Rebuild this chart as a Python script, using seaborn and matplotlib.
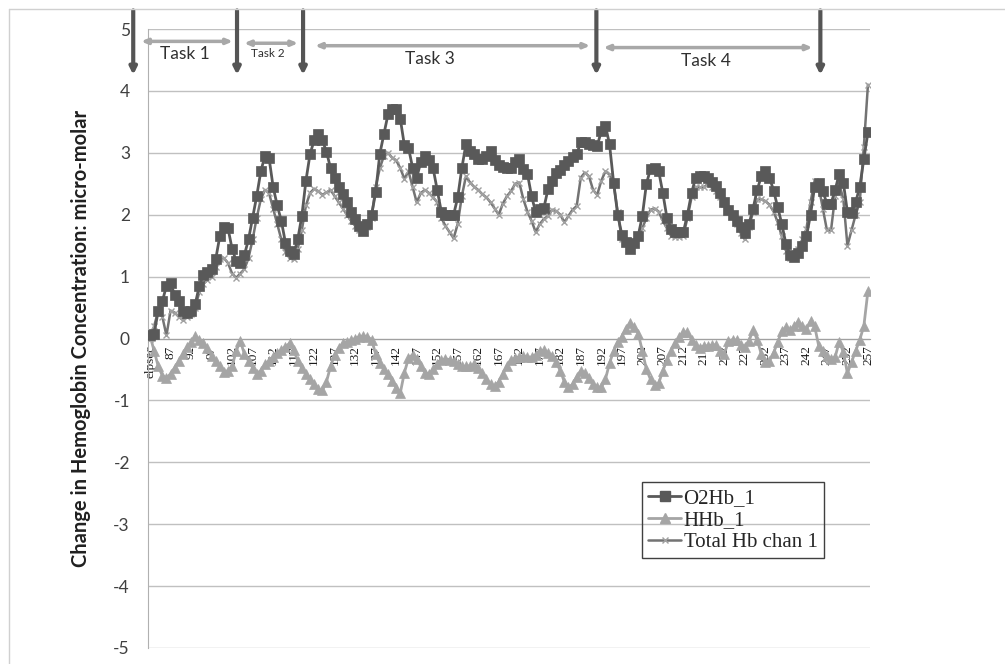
import matplotlib
matplotlib.use("Agg")
import matplotlib.pyplot as plt
from matplotlib.lines import Line2D
import seaborn as sns
import pandas as pd

# category labels: first column is "elpsec", then seconds 83..257
seconds = ["elpsec"] + [str(s) for s in range(83, 258)]

o2hb = [
    0.05, 0.08, 0.45, 0.6, 0.85, 0.9, 0.7, 0.6, 0.45, 0.42,
    0.45, 0.55, 0.85, 1.03, 1.07, 1.12, 1.28, 1.65, 1.8, 1.78,
    1.45, 1.25, 1.22, 1.35, 1.6, 1.95, 2.3, 2.7, 2.95, 2.92,
    2.45, 2.15, 1.9, 1.55, 1.42, 1.36, 1.6, 1.98, 2.55, 2.98,
    3.2, 3.3, 3.2, 3.02, 2.75, 2.6, 2.45, 2.33, 2.2, 2.05,
    1.93, 1.82, 1.74, 1.85, 2.0, 2.36, 2.98, 3.3, 3.62, 3.7,
    3.71, 3.55, 3.12, 3.08, 2.76, 2.6, 2.85, 2.95, 2.88, 2.75,
    2.4, 2.05, 2.0, 2.0, 2.0, 2.28, 2.75, 3.14, 3.03, 2.98,
    2.9, 2.9, 2.95, 3.03, 2.88, 2.8, 2.77, 2.76, 2.76, 2.85,
    2.9, 2.74, 2.66, 2.3, 2.04, 2.09, 2.11, 2.41, 2.55, 2.67,
    2.73, 2.8, 2.87, 2.93, 2.98, 3.17, 3.17, 3.14, 3.12, 3.11,
    3.35, 3.44, 3.14, 2.52, 2.0, 1.68, 1.56, 1.44, 1.55, 1.66,
    1.98, 2.5, 2.74, 2.76, 2.7, 2.35, 1.95, 1.77, 1.72, 1.72,
    1.72, 2.0, 2.35, 2.6, 2.63, 2.63, 2.6, 2.53, 2.47, 2.35,
    2.2, 2.08, 2.0, 1.9, 1.8, 1.7, 1.85, 2.1, 2.4, 2.62,
    2.71, 2.6, 2.39, 2.12, 1.85, 1.53, 1.35, 1.32, 1.38, 1.5,
    1.65, 2.0, 2.45, 2.52, 2.38, 2.18, 2.18, 2.4, 2.66, 2.52,
    2.04, 2.03, 2.2, 2.45, 2.9, 3.33,
]

hhb = [
    0.04, -0.2, -0.45, -0.6, -0.64, -0.57, -0.47, -0.37, -0.25, -0.14,
    -0.06, 0.04, -0.02, -0.08, -0.16, -0.28, -0.36, -0.44, -0.54, -0.52,
    -0.45, -0.2, -0.04, -0.25, -0.36, -0.47, -0.57, -0.52, -0.42, -0.36,
    -0.3, -0.24, -0.18, -0.13, -0.08, -0.18, -0.36, -0.48, -0.57, -0.65,
    -0.73, -0.82, -0.84, -0.7, -0.45, -0.26, -0.15, -0.08, -0.05, -0.03,
    0.0, 0.03, 0.04, 0.03, -0.02, -0.25, -0.4, -0.5, -0.58, -0.68,
    -0.8, -0.88, -0.55, -0.32, -0.26, -0.33, -0.45, -0.55, -0.58, -0.5,
    -0.42, -0.35, -0.33, -0.34, -0.37, -0.41, -0.45, -0.45, -0.44, -0.42,
    -0.48, -0.56, -0.66, -0.74, -0.77, -0.7, -0.58, -0.44, -0.34, -0.32,
    -0.3, -0.29, -0.3, -0.3, -0.26, -0.2, -0.19, -0.24, -0.28, -0.38,
    -0.52, -0.7, -0.79, -0.74, -0.62, -0.52, -0.55, -0.64, -0.74, -0.78,
    -0.79, -0.66, -0.4, -0.2, -0.06, 0.03, 0.16, 0.25, 0.19, 0.08,
    -0.2, -0.5, -0.66, -0.75, -0.72, -0.52, -0.35, -0.2, -0.07, 0.02,
    0.11, 0.1, -0.02, -0.1, -0.15, -0.12, -0.12, -0.11, -0.1, -0.2,
    -0.25, -0.04, -0.02, -0.03, -0.1, -0.13, -0.04, 0.14, -0.02, -0.25,
    -0.38, -0.36, -0.23, -0.06, 0.12, 0.18, 0.13, 0.2, 0.27, 0.2,
    0.15, 0.28, 0.2, -0.12, -0.2, -0.28, -0.33, -0.3, -0.05, -0.22,
    -0.56, -0.38, -0.2, -0.02, 0.2, 0.77,
]

total_hb = [
    0.0, 0.2, 0.45, 0.35, 0.05, 0.45, 0.42, 0.35, 0.3, 0.35,
    0.4, 0.5, 0.75, 0.88, 0.95, 1.0, 1.15, 1.28, 1.3, 1.22,
    1.05, 0.98, 1.05, 1.12, 1.3, 1.6, 1.95, 2.25, 2.4, 2.35,
    2.1, 1.85, 1.6, 1.4, 1.3, 1.28, 1.45, 1.75, 2.15, 2.35,
    2.42, 2.38, 2.32, 2.36, 2.4, 2.3, 2.2, 2.1, 2.0, 1.9,
    1.82, 1.76, 1.72, 1.8, 1.95, 2.45, 2.75, 2.95, 3.0, 2.92,
    2.88, 2.75, 2.58, 2.7, 2.45, 2.2, 2.35, 2.4, 2.35, 2.28,
    2.2, 1.95, 1.82, 1.72, 1.62, 1.85, 2.3, 2.62, 2.52, 2.45,
    2.4, 2.33, 2.28, 2.2, 2.1, 2.0, 2.18, 2.3, 2.38, 2.5,
    2.52, 2.25, 2.05, 1.9, 1.72, 1.85, 1.93, 1.98, 2.08, 2.06,
    2.0, 1.88, 1.98, 2.08, 2.14, 2.6, 2.68, 2.62, 2.4, 2.32,
    2.55, 2.7, 2.65, 2.5, 2.04, 1.6, 1.55, 1.5, 1.55, 1.65,
    1.78, 1.95, 2.08, 2.1, 2.05, 1.9, 1.78, 1.66, 1.64, 1.64,
    1.66, 1.95, 2.28, 2.45, 2.44, 2.44, 2.5, 2.45, 2.38, 2.28,
    2.18, 2.08, 1.98, 1.85, 1.7, 1.6, 1.8, 2.05, 2.25, 2.25,
    2.22, 2.16, 2.05, 1.88, 1.65, 1.42, 1.3, 1.3, 1.45, 1.6,
    1.77, 2.2, 2.55, 2.45, 2.1, 1.75, 1.75, 2.3, 2.5, 2.25,
    1.5, 1.75, 2.0, 2.2, 3.1, 4.1,
]

# task boundaries (category position) and task spans
boundaries = [-4.1, 21.2, 37.3, 108.8, 163.4]
tasks = ["Task 1", "Task 2", "Task 3", "Task 4"]
task_spans = [(-2.2, 20.2), (22.9, 36.1), (40.2, 107.3), (110.5, 161.5)]
task_label_x = [8.5, 28.8, 68.3, 135.4]

df = pd.DataFrame({
    "pos": range(len(seconds)),
    "second": seconds,
    "O2Hb_1": o2hb,
    "HHb_1": hhb,
    "Total Hb chan 1": total_hb,
})

sns.set_style("white")
plt.rcParams["axes.unicode_minus"] = False
plt.rcParams["font.family"] = ["Lato", "DejaVu Sans"]

c_o2 = "#595959"
c_hhb = "#a5a5a5"
c_tot = "#737373"

fig = plt.figure(figsize=(10.05, 6.64), dpi=100)
ax = fig.add_axes([148 / 1005, 16 / 664, 722 / 1005, 619 / 664])

sns.lineplot(data=df, x="pos", y="HHb_1", ax=ax, color=c_hhb, linewidth=2,
             marker="^", markersize=6.5, markeredgecolor=c_hhb, markerfacecolor=c_hhb,
             markeredgewidth=0.5, label="HHb_1", legend=False, zorder=3)
sns.lineplot(data=df, x="pos", y="Total Hb chan 1", ax=ax, color=c_tot, linewidth=1.8,
             marker="x", markersize=5, markeredgecolor="#a0a0a0", markeredgewidth=1,
             label="Total Hb chan 1", legend=False, zorder=4)
sns.lineplot(data=df, x="pos", y="O2Hb_1", ax=ax, color=c_o2, linewidth=2,
             marker="s", markersize=7, markeredgecolor=c_o2, markerfacecolor=c_o2,
             markeredgewidth=0.5, label="O2Hb_1", legend=False, zorder=5)

ax.set_xlim(-0.5, len(seconds) - 0.5)
ax.set_ylim(-5, 5)
ax.set_yticks(range(-5, 6))
ax.yaxis.grid(True, color="#c0c0c0", linewidth=1)
ax.set_axisbelow(True)

for side in ["top", "right"]:
    ax.spines[side].set_visible(False)
ax.spines["left"].set_color("#b0b0b0")
ax.spines["bottom"].set_position(("data", 0))
ax.spines["bottom"].set_color("#a0a0a0")

ax.set_xticks(range(len(seconds)))
ax.set_xticklabels([s if i % 5 == 0 else "" for i, s in enumerate(seconds)],
                   rotation=90, fontsize=9.5, family="Liberation Serif",
                   color="#1a1a1a", va="top", ha="center")
ax.tick_params(axis="x", length=4, width=0.8, color="#a0a0a0", pad=1)
ax.tick_params(axis="y", length=0, pad=13, labelsize=12.5, labelcolor="#404040")

ax.set_xlabel("")
ax.set_ylabel("Change in Hemoglobin Concentration: micro-molar",
              fontsize=14.5, fontweight="bold", color="#202020", labelpad=16)

# task arrows
for b in boundaries:
    ax.annotate("", xy=(b, 4.26), xytext=(b, 5.3), annotation_clip=False,
                arrowprops=dict(arrowstyle="-|>,head_length=0.4,head_width=0.2",
                                color="#555555", lw=3, shrinkA=0, shrinkB=0))
heights = [4.8, 4.77, 4.73, 4.7]
for (x0, x1), h in zip(task_spans, heights):
    ax.annotate("", xy=(x1, h), xytext=(x0, h), annotation_clip=False,
                arrowprops=dict(arrowstyle="<|-|>,head_length=0.35,head_width=0.15",
                                color="#a8a8a8", lw=2.5, shrinkA=0, shrinkB=0))
for name, lx, h in zip(tasks, task_label_x, heights):
    ax.text(lx, h - 0.08, name, ha="center", va="top",
            fontsize=8.5 if name == "Task 2" else 12.5, color="#303030")

handles = [
    Line2D([], [], color=c_o2, lw=2, marker="s", markersize=7, markeredgecolor=c_o2),
    Line2D([], [], color=c_hhb, lw=2, marker="^", markersize=6.5, markeredgecolor=c_hhb),
    Line2D([], [], color=c_tot, lw=1.8, marker="x", markersize=5, markeredgecolor="#a0a0a0"),
]
leg = ax.legend(handles, ["O2Hb_1", "HHb_1", "Total Hb chan 1"],
                loc="upper left", bbox_to_anchor=(0.684, 0.268),
                prop={"family": "Liberation Serif", "size": 15},
                frameon=True, fancybox=False, handlelength=1.6,
                handletextpad=0.1, labelspacing=0.12,
                borderpad=0.3, borderaxespad=0)
frame = leg.get_frame()
frame.set_facecolor("none")
frame.set_edgecolor("#404040")
frame.set_alpha(None)
frame.set_linewidth(1)

# chart area border
fig.add_artist(Line2D([9 / 1005, 1.0], [1 - 9 / 664, 1 - 9 / 664], color="#d0d0d0", lw=1))
fig.add_artist(Line2D([9 / 1005, 9 / 1005], [0, 1 - 9 / 664], color="#d0d0d0", lw=1))

plt.savefig("out.png", dpi=100)
